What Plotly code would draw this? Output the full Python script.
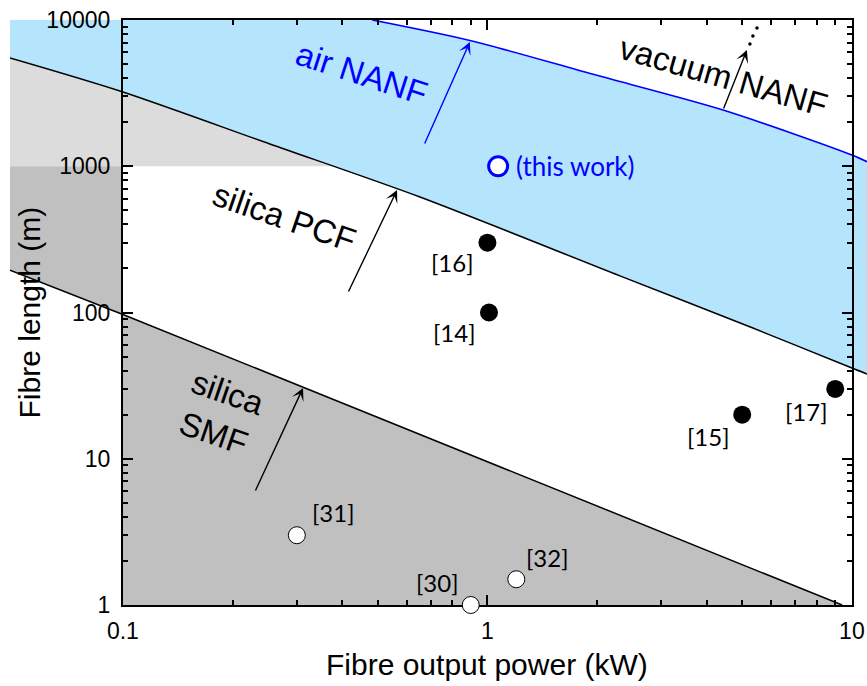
import numpy as np
import plotly.graph_objects as go

# ---------------- data ----------------
# silica PCF limit curve (kW, m)
pcf_P = [0.049, 0.1, 0.253, 0.653, 2.31, 5.35, 10.0, 11.0]
pcf_L = [5500, 3220, 1420, 616, 178, 78.3, 41.7, 38.0]
# vacuum NANF limit curve
vac_P = [0.483, 0.907, 1.95, 4.43, 10.0, 11.0]
vac_L = [10000, 7190, 4250, 2425, 1194, 1074]
# silica SMF limit line
smf_P = [0.049, 0.1, 9.4]
smf_L = [195, 97, 1]

# literature points (filled, black)
ref_names = ["[16]", "[14]", "[15]", "[17]"]
ref_P = [1.0, 1.01, 5.0, 9.0]
ref_L = [300, 100, 20, 30]
# SMF literature points (open, white)
smfref_names = ["[31]", "[30]", "[32]"]
smfref_P = [0.3, 0.9, 1.2]
smfref_L = [3, 1, 1.5]
# this work
this_P = [1.07]
this_L = [1000]

x_ticks = [0.1, 1, 10]
x_ticktext = ["0.1", "1", "10"]
y_ticks = [1, 10, 100, 1000, 10000]
y_ticktext = ["1", "10", "100", "1000", "10000"]

# region labels: text, P, L, angle, colour
region_text = ["air NANF", "silica PCF", "vacuum NANF", "silica<br>SMF"]
region_P = [0.4525, 0.2782, 4.456, 0.1856]
region_L = [4340, 443, 4077, 20.6]
region_angle = [18, 19, 16, 19]
region_color = ["#0000ff", "black", "black", "black"]

# arrows: tip (P, L), tail (P, L)
arrow_tip_P = [0.895, 0.565, 0.312, 5.15]
arrow_tip_L = [7073, 688, 30.5, 6237]
arrow_tail_P = [0.67, 0.414, 0.230, 4.43]
arrow_tail_L = [1398, 136, 5.92, 2425]
arrow_color = ["#0000ff", "black", "black", "black"]
# dotted continuation of vacuum arrow
dots_P = [5.25, 5.35, 5.49]
dots_L = [6855, 7775, 8815]

# ---------------- geometry helpers ----------------
XL, XR = np.log10(0.049), np.log10(11.0)
BOX_X0, BOX_X1 = 0.1, 10.0
BOX_Y0, BOX_Y1 = 1.0, 10000.0
d0 = (np.log10(BOX_X0) - XL) / (XR - XL)
d1 = (np.log10(BOX_X1) - XL) / (XR - XL)

lpP, lpL = np.log10(pcf_P), np.log10(pcf_L)
cross_logP = np.interp(-3.0, -lpL, lpP)
P_cross = 10 ** cross_logP

blue_fill = "#b5e5fc"
light_gray = "#dcdcdc"
dark_gray = "#c0c0c0"

fig = go.Figure()

def poly(xs, ys, color):
    fig.add_trace(go.Scatter(x=xs, y=ys, fill="toself", fillcolor=color,
                             line=dict(width=0), mode="lines", hoverinfo="skip",
                             xaxis="x", yaxis="y"))

# light gray: above 1000 and below PCF curve
lg_x = [p for p in pcf_P if p < P_cross] + [P_cross, pcf_P[0]]
lg_y = [l for p, l in zip(pcf_P, pcf_L) if p < P_cross] + [1000, 1000]
poly(lg_x, lg_y, light_gray)
# dark gray: below SMF line inside frame
poly([smf_P[1], smf_P[2], BOX_X0], [smf_L[1], smf_L[2], BOX_Y0], dark_gray)
# dark gray strip left of the frame
poly([smf_P[0], smf_P[1], BOX_X0, smf_P[0]], [smf_L[0], smf_L[1], 1000, 1000], dark_gray)
# blue top-left part (overlaps the tonexty fill so no seam shows)
tl_idx = [i for i, p in enumerate(pcf_P) if p <= 0.7]
poly([pcf_P[0], vac_P[0]] + [pcf_P[i] for i in tl_idx[::-1]],
     [BOX_Y1, vac_L[0]] + [pcf_L[i] for i in tl_idx[::-1]], blue_fill)

# PCF line
fig.add_trace(go.Scatter(x=pcf_P, y=pcf_L, mode="lines",
                         line=dict(color="black", width=1.5, shape="spline", smoothing=0.8),
                         xaxis="x", yaxis="y", hoverinfo="skip"))
# vacuum line with blue fill down to PCF line
fig.add_trace(go.Scatter(x=vac_P, y=vac_L, mode="lines", fill="tonexty", fillcolor=blue_fill,
                         line=dict(color="#0000ff", width=1.6, shape="spline", smoothing=0.8),
                         xaxis="x", yaxis="y", hoverinfo="skip"))
# SMF line
fig.add_trace(go.Scatter(x=smf_P, y=smf_L, mode="lines",
                         line=dict(color="black", width=1.5), xaxis="x", yaxis="y",
                         hoverinfo="skip"))

# dotted continuation
fig.add_trace(go.Scatter(x=dots_P, y=dots_L, mode="markers",
                         marker=dict(color="black", size=3.5), xaxis="x2", yaxis="y2",
                         cliponaxis=False))

# data points
fig.add_trace(go.Scatter(x=ref_P, y=ref_L, mode="markers",
                         marker=dict(color="black", size=18, line=dict(width=0)),
                         xaxis="x2", yaxis="y2", cliponaxis=False))
fig.add_trace(go.Scatter(x=smfref_P, y=smfref_L, mode="markers",
                         marker=dict(color="white", size=17, line=dict(color="black", width=1)),
                         xaxis="x2", yaxis="y2", cliponaxis=False))
fig.add_trace(go.Scatter(x=this_P, y=this_L, mode="markers",
                         marker=dict(color="white", size=19, line=dict(color="#0000ff", width=3)),
                         xaxis="x2", yaxis="y2", cliponaxis=False))

ann = []
lab_font = dict(family="Lato, Noto Sans, sans-serif", size=24, color="black")
ref_shift = [(-35, -20), (-34, -20), (-34, -22), (-29, -23)]
for n, p, l, (dx, dy) in zip(ref_names, ref_P, ref_L, ref_shift):
    ann.append(dict(x=np.log10(p), y=np.log10(l), xref="x2", yref="y2", text=n,
                    showarrow=False, xshift=dx, yshift=dy, font=lab_font))
smf_shift = [(37, 23), (-33, 23), (31, 22)]
for n, p, l, (dx, dy) in zip(smfref_names, smfref_P, smfref_L, smf_shift):
    ann.append(dict(x=np.log10(p), y=np.log10(l), xref="x2", yref="y2", text=n,
                    showarrow=False, xshift=dx, yshift=dy, font=lab_font))
ann.append(dict(x=np.log10(this_P[0]), y=np.log10(this_L[0]), xref="x2", yref="y2",
                text="(this work)", showarrow=False, xanchor="left", xshift=16,
                font=dict(family="Lato, Noto Sans, sans-serif", size=26, color="#0000ff")))

for t, p, l, a, c in zip(region_text, region_P, region_L, region_angle, region_color):
    ann.append(dict(x=np.log10(p), y=np.log10(l), xref="x2", yref="y2", text=t,
                    showarrow=False, textangle=a,
                    font=dict(family="Arial, Liberation Sans, sans-serif", size=33, color=c)))

for tp, tl, sp, sl, c in zip(arrow_tip_P, arrow_tip_L, arrow_tail_P, arrow_tail_L, arrow_color):
    ann.append(dict(x=np.log10(tp), y=np.log10(tl), xref="x2", yref="y2",
                    ax=np.log10(sp), ay=np.log10(sl), axref="x2", ayref="y2",
                    text="", showarrow=True, arrowhead=3, arrowsize=1.5,
                    arrowwidth=1.4, arrowcolor=c, standoff=0))

ann.append(dict(x=(d0 + d1) / 2, y=-0.101, xref="paper", yref="paper",
                xanchor="center", yanchor="middle",
                text="Fibre output power (kW)", showarrow=False,
                font=dict(family="Arial, Liberation Sans, sans-serif", size=30, color="black")))
ann.append(dict(x=0.0233, y=0.5, xref="paper", yref="paper",
                xanchor="center", yanchor="middle",
                text="Fibre length (m)", showarrow=False, textangle=-90,
                font=dict(family="Arial, Liberation Sans, sans-serif", size=30, color="black")))

x_minor = [m * d for d in (0.1, 1) for m in range(2, 10)]
y_minor = [m * d for d in (1, 10, 100, 1000) for m in range(2, 10)]
tick_font = dict(family="Arial, Liberation Sans, sans-serif", size=23, color="black")

fig.update_layout(
    width=867, height=686,
    margin=dict(l=10, r=0, t=20, b=81, autoexpand=False),
    paper_bgcolor="white", plot_bgcolor="rgba(0,0,0,0)",
    showlegend=False,
    xaxis=dict(type="log", range=[XL, XR], domain=[0, 1], visible=False,
               fixedrange=True, automargin=False),
    yaxis=dict(type="log", range=[0, 4], domain=[0, 1], visible=False,
               fixedrange=True, automargin=False),
    xaxis2=dict(type="log", range=[np.log10(BOX_X0), np.log10(BOX_X1)], domain=[d0, d1],
                anchor="y2", tickmode="array", tickvals=x_ticks, ticktext=x_ticktext,
                ticks="inside", ticklen=10, tickwidth=2, tickcolor="black",
                showline=True, linewidth=2, linecolor="black", mirror="ticks",
                showgrid=False, zeroline=False, tickfont=tick_font, ticklabelstandoff=4,
                automargin=False, layer="below traces",
                minor=dict(tickmode="array", tickvals=x_minor, ticks="inside",
                           ticklen=5, tickwidth=1.5, tickcolor="black", showgrid=False)),
    yaxis2=dict(type="log", range=[np.log10(BOX_Y0), np.log10(BOX_Y1)], domain=[0, 1],
                anchor="x2", tickmode="array", tickvals=y_ticks, ticktext=y_ticktext,
                ticks="inside", ticklen=10, tickwidth=2, tickcolor="black",
                showline=True, linewidth=2, linecolor="black", mirror="ticks",
                showgrid=False, zeroline=False, tickfont=tick_font, ticklabelstandoff=6,
                automargin=False, layer="below traces",
                minor=dict(tickmode="array", tickvals=y_minor, ticks="inside",
                           ticklen=5, tickwidth=1.5, tickcolor="black", showgrid=False)),
    annotations=ann,
)

fig.write_html("out.html", config={"displayModeBar": False},
               post_script="document.body.style.margin='0px';")
